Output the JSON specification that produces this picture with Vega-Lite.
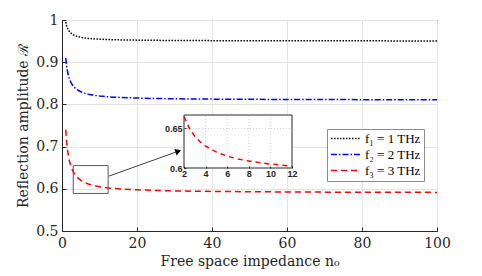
{
  "$schema": "https://vega.github.io/schema/vega-lite/v6.json",
  "width": 375,
  "height": 211,
  "autosize": "none",
  "padding": {"left": 62, "top": 20, "right": 45, "bottom": 45},
  "datasets": {
    "curves": [
      {"n": 1, "f1": 0.995, "f2": 0.910, "f3": 0.740},
      {"n": 1.25, "f1": 0.986, "f2": 0.890, "f3": 0.710},
      {"n": 1.5, "f1": 0.980, "f2": 0.8767, "f3": 0.690},
      {"n": 1.75, "f1": 0.9757, "f2": 0.8671, "f3": 0.6757},
      {"n": 2, "f1": 0.9725, "f2": 0.860, "f3": 0.665},
      {"n": 2.5, "f1": 0.968, "f2": 0.850, "f3": 0.650},
      {"n": 3, "f1": 0.965, "f2": 0.8433, "f3": 0.640},
      {"n": 3.5, "f1": 0.9629, "f2": 0.8386, "f3": 0.6329},
      {"n": 4, "f1": 0.9613, "f2": 0.835, "f3": 0.6275},
      {"n": 5, "f1": 0.959, "f2": 0.830, "f3": 0.620},
      {"n": 6, "f1": 0.9575, "f2": 0.8267, "f3": 0.615},
      {"n": 7, "f1": 0.9564, "f2": 0.8243, "f3": 0.6114},
      {"n": 8, "f1": 0.9556, "f2": 0.8225, "f3": 0.6088},
      {"n": 9, "f1": 0.955, "f2": 0.8211, "f3": 0.6067},
      {"n": 10, "f1": 0.9545, "f2": 0.820, "f3": 0.605},
      {"n": 11, "f1": 0.9541, "f2": 0.8191, "f3": 0.6036},
      {"n": 12, "f1": 0.9538, "f2": 0.8183, "f3": 0.6025},
      {"n": 14, "f1": 0.9532, "f2": 0.8171, "f3": 0.6007},
      {"n": 16, "f1": 0.9528, "f2": 0.8163, "f3": 0.5994},
      {"n": 20, "f1": 0.9523, "f2": 0.815, "f3": 0.5975},
      {"n": 25, "f1": 0.9518, "f2": 0.814, "f3": 0.596},
      {"n": 30, "f1": 0.9515, "f2": 0.8133, "f3": 0.595},
      {"n": 40, "f1": 0.9511, "f2": 0.8125, "f3": 0.5938},
      {"n": 50, "f1": 0.9509, "f2": 0.812, "f3": 0.593},
      {"n": 60, "f1": 0.9508, "f2": 0.8117, "f3": 0.5925},
      {"n": 70, "f1": 0.9506, "f2": 0.8114, "f3": 0.5921},
      {"n": 80, "f1": 0.9506, "f2": 0.8113, "f3": 0.5919},
      {"n": 90, "f1": 0.9505, "f2": 0.8111, "f3": 0.5917},
      {"n": 100, "f1": 0.9505, "f2": 0.811, "f3": 0.5915}
    ],
    "zoombox": [{"n": 3, "n2": 12.3, "R": 0.589, "R2": 0.655}],
    "arrow": [{"n": 12.5, "R": 0.630, "n2": 31.0, "R2": 0.689}],
    "insetframe": [{"n": 2, "n2": 12, "R": 0.6, "R2": 0.667}],
    "insetvgrid": [
      {"n": 4, "R": 0.6, "R2": 0.667},
      {"n": 6, "R": 0.6, "R2": 0.667},
      {"n": 8, "R": 0.6, "R2": 0.667},
      {"n": 10, "R": 0.6, "R2": 0.667}
    ],
    "insethgrid": [{"n": 2, "n2": 12, "R": 0.65}]
  },
  "config": {
    "font": "DejaVu Serif",
    "view": {"stroke": "#262626", "strokeWidth": 1},
    "axis": {
      "domainColor": "#262626",
      "tickColor": "#262626",
      "labelColor": "#262626",
      "titleColor": "#262626",
      "gridColor": "#e4e4e4",
      "labelFont": "DejaVu Serif",
      "titleFont": "DejaVu Serif",
      "labelFontSize": 14,
      "titleFontSize": 14,
      "titleFontWeight": "normal",
      "labelFlush": false
    },
    "legend": {
      "labelFont": "Liberation Serif",
      "labelFontSize": 13,
      "labelColor": "#000000"
    }
  },
  "layer": [
    {
      "layer": [
        {
          "data": {"name": "curves"},
          "transform": [{"fold": ["f1", "f2", "f3"], "as": ["series", "R"]}],
          "mark": {"type": "line", "strokeWidth": 1.5},
          "encoding": {
            "x": {
              "field": "n", "type": "quantitative",
              "title": "Free space impedance n₀",
              "scale": {"domain": [0, 100], "nice": false},
              "axis": {"values": [0, 20, 40, 60, 80, 100], "grid": true, "tickSize": -4, "labelPadding": 9, "titlePadding": 4, "labelFlush": false}
            },
            "y": {
              "field": "R", "type": "quantitative",
              "title": "Reflection amplitude ℛ",
              "scale": {"domain": [0.5, 1], "nice": false, "zero": false},
              "axis": {"values": [0.5, 0.6, 0.7, 0.8, 0.9, 1], "format": "~g", "grid": true, "tickSize": -4, "labelPadding": 8, "titlePadding": 5, "labelFlush": false}
            },
            "color": {
              "field": "series", "type": "nominal",
              "scale": {"domain": ["f1", "f2", "f3"], "range": ["#000000", "#0000ff", "#ff0000"]},
              "legend": {
                "title": null, "orient": "none", "legendX": 265, "legendY": 109,
                "symbolType": "stroke", "symbolSize": 900, "symbolStrokeWidth": 1.5, "clipHeight": 13,
                "strokeColor": "#8c8c8c", "fillColor": "#ffffff", "padding": 3, "rowPadding": 2, "labelOffset": 3,
                "labelExpr": "datum.label == 'f1' ? 'f₁ = 1 THz' : datum.label == 'f2' ? 'f₂ = 2 THz' : 'f₃ = 3 THz'"
              }
            },
            "strokeDash": {
              "field": "series", "type": "nominal",
              "scale": {"domain": ["f1", "f2", "f3"], "range": [[1.5, 1.5], [6, 2, 1.5, 2], [6, 4]]},
              "legend": {
                "title": null, "orient": "none", "legendX": 265, "legendY": 109,
                "symbolType": "stroke", "symbolSize": 900, "symbolStrokeWidth": 1.5, "clipHeight": 13,
                "strokeColor": "#8c8c8c", "fillColor": "#ffffff", "padding": 3, "rowPadding": 2, "labelOffset": 3,
                "labelExpr": "datum.label == 'f1' ? 'f₁ = 1 THz' : datum.label == 'f2' ? 'f₂ = 2 THz' : 'f₃ = 3 THz'"
              }
            }
          }
        },
        {
          "data": {"name": "zoombox"},
          "mark": {"type": "rect", "fill": "transparent", "stroke": "#5a5a5a", "strokeWidth": 1},
          "encoding": {
            "x": {"field": "n", "type": "quantitative", "title": "Free space impedance n₀"},
            "x2": {"field": "n2"},
            "y": {"field": "R", "type": "quantitative", "title": "Reflection amplitude ℛ"},
            "y2": {"field": "R2"}
          }
        },
        {
          "data": {"name": "arrow"},
          "mark": {"type": "rule", "stroke": "#404040", "strokeWidth": 1},
          "encoding": {
            "x": {"field": "n", "type": "quantitative", "title": "Free space impedance n₀"},
            "x2": {"field": "n2"},
            "y": {"field": "R", "type": "quantitative", "title": "Reflection amplitude ℛ"},
            "y2": {"field": "R2"}
          }
        },
        {
          "data": {"name": "arrow"},
          "mark": {"type": "point", "shape": "triangle-right", "filled": true, "color": "#000000", "opacity": 1, "size": 45, "angle": -19.7},
          "encoding": {
            "x": {"field": "n2", "type": "quantitative", "title": "Free space impedance n₀"},
            "y": {"field": "R2", "type": "quantitative", "title": "Reflection amplitude ℛ"}
          }
        }
      ]
    },
    {
      "layer": [
        {
          "data": {"name": "insetframe"},
          "mark": {"type": "rect", "fill": "#ffffff", "stroke": "#262626", "strokeWidth": 1},
          "encoding": {
            "x": {
              "field": "n", "type": "quantitative", "title": null,
              "scale": {"domain": [2, 12], "range": [122, 230], "nice": false, "zero": false},
              "axis": {"orient": "bottom", "offset": -63, "values": [2, 4, 6, 8, 10, 12], "grid": false, "domain": false, "tickSize": -2, "labelPadding": 3, "labelFont": "Liberation Sans", "labelFontSize": 9, "labelFontWeight": "bold", "labelColor": "#262626", "zindex": 1}
            },
            "x2": {"field": "n2"},
            "y": {
              "field": "R", "type": "quantitative", "title": null,
              "scale": {"domain": [0.6, 0.667], "range": [148, 95], "nice": false, "zero": false},
              "axis": {"orient": "left", "offset": -122, "values": [0.6, 0.65], "format": "~g", "grid": false, "domain": false, "tickSize": -2, "labelPadding": 4, "labelFont": "Liberation Sans", "labelFontSize": 9, "labelFontWeight": "bold", "labelColor": "#262626", "zindex": 1}
            },
            "y2": {"field": "R2"}
          }
        },
        {
          "data": {"name": "insetvgrid"},
          "mark": {"type": "rule", "stroke": "#c8c8c8", "strokeWidth": 0.8, "strokeDash": [1, 2]},
          "encoding": {
            "x": {"field": "n", "type": "quantitative", "title": null},
            "y": {"field": "R", "type": "quantitative", "title": null},
            "y2": {"field": "R2"}
          }
        },
        {
          "data": {"name": "insethgrid"},
          "mark": {"type": "rule", "stroke": "#c8c8c8", "strokeWidth": 0.8, "strokeDash": [1, 2]},
          "encoding": {
            "x": {"field": "n", "type": "quantitative", "title": null},
            "x2": {"field": "n2"},
            "y": {"field": "R", "type": "quantitative", "title": null}
          }
        },
        {
          "data": {"name": "curves"},
          "transform": [{"filter": "datum.n >= 2 && datum.n <= 12"}],
          "mark": {"type": "line", "color": "#ff0000", "strokeWidth": 1.5, "strokeDash": [5, 4]},
          "encoding": {
            "x": {"field": "n", "type": "quantitative", "title": null},
            "y": {"field": "f3", "type": "quantitative", "title": null}
          }
        }
      ]
    }
  ],
  "resolve": {"scale": {"x": "independent", "y": "independent"}}
}
